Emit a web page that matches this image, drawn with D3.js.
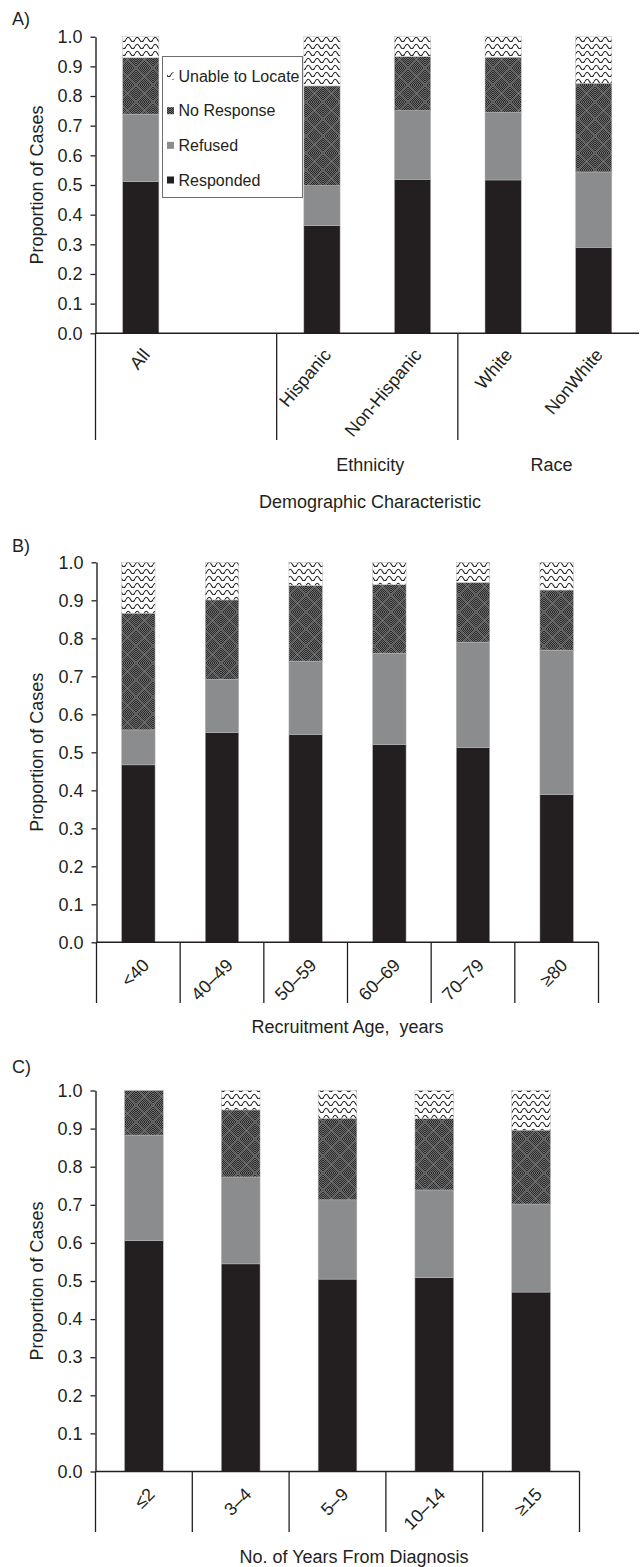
<!DOCTYPE html>
<html>
<head>
<meta charset="utf-8">
<script src="https://cdn.jsdelivr.net/npm/d3@7"></script>
<style>
  body { margin: 0; background: #fff; }
  svg { display: block; }
  text { font-family: "Liberation Sans", Arial, Helvetica, sans-serif; fill: #231f20; white-space: pre; }
</style>
</head>
<body>
<div id="chart"></div>
<script>
// series keys, bottom to top of each stack
var seriesKeys = ['Responded', 'Refused', 'No Response', 'Unable to Locate'];

// A) demographic characteristic ('' is the empty slot after All)
var demoCategories = ['All', '', 'Hispanic', 'Non-Hispanic', 'White', 'NonWhite'];
var demoResponded  = [0.511, 0, 0.363, 0.519, 0.517, 0.290];
var demoRefused    = [0.228, 0, 0.135, 0.232, 0.228, 0.254];
var demoNoResponse = [0.190, 0, 0.336, 0.182, 0.186, 0.299];
var demoUnable     = [0.071, 0, 0.166, 0.067, 0.069, 0.157];
var demoGroups = [
    {label: 'Ethnicity', from: 'Hispanic', to: 'Non-Hispanic'},
    {label: 'Race', from: 'White', to: 'NonWhite'}
];

// B) recruitment age
var ageCategories = ['<40', '40\u201349', '50\u201359', '60\u201369', '70\u201379', '\u226580'];
var ageResponded  = [0.467, 0.552, 0.547, 0.520, 0.512, 0.389];
var ageRefused    = [0.092, 0.140, 0.193, 0.241, 0.278, 0.380];
var ageNoResponse = [0.307, 0.209, 0.199, 0.180, 0.157, 0.158];
var ageUnable     = [0.134, 0.099, 0.061, 0.059, 0.053, 0.073];

// C) years from diagnosis
var yearsCategories = ['\u22642', '3\u20134', '5\u20139', '10\u201314', '\u226515'];
var yearsResponded  = [0.606, 0.545, 0.505, 0.509, 0.471];
var yearsRefused    = [0.277, 0.228, 0.208, 0.230, 0.231];
var yearsNoResponse = [0.117, 0.176, 0.214, 0.187, 0.194];
var yearsUnable     = [0.000, 0.051, 0.073, 0.074, 0.104];

var yTicks = d3.range(0, 11).map(function(i) { return i / 10; });

var WIDTH = 643, HEIGHT = 1567;
var INK = '#231f20';

var svg = d3.select('#chart').append('svg')
    .attr('width', WIDTH)
    .attr('height', HEIGHT);

// fill patterns
var defs = svg.append('defs');

var checker = defs.append('pattern')
    .attr('id', 'checker')
    .attr('patternUnits', 'userSpaceOnUse')
    .attr('width', 2).attr('height', 2);
checker.append('rect').attr('width', 2).attr('height', 2).attr('fill', '#6c6c6c');
checker.append('rect').attr('width', 1).attr('height', 1).attr('fill', '#2b2b2b');
checker.append('rect').attr('x', 1).attr('y', 1).attr('width', 1).attr('height', 1).attr('fill', '#2b2b2b');

var noResp = defs.append('pattern')
    .attr('id', 'noresp')
    .attr('patternUnits', 'userSpaceOnUse')
    .attr('width', 17).attr('height', 17);
noResp.append('rect').attr('width', 17).attr('height', 17).attr('fill', 'url(#checker)');
noResp.append('path')
    .attr('d', 'M0,0L17,17M17,0L0,17')
    .attr('stroke', '#a8a8a8')
    .attr('stroke-width', 0.8)
    .attr('stroke-opacity', 0.45);

var waves = defs.append('pattern')
    .attr('id', 'waves')
    .attr('patternUnits', 'userSpaceOnUse')
    .attr('width', 9).attr('height', 7);
waves.append('rect').attr('width', 9).attr('height', 7).attr('fill', '#fff');
waves.append('path')
    .attr('d', 'M0,4.6 Q2.25,0 4.5,4.6 T9,4.6')
    .attr('fill', 'none')
    .attr('stroke', INK)
    .attr('stroke-width', 1.1);

var fills = {
    'Responded': INK,
    'Refused': '#8b8c8e',
    'No Response': 'url(#noresp)',
    'Unable to Locate': 'url(#waves)'
};

function makeRows(categories, responded, refused, noResponse, unable) {
    return categories.map(function(c, i) {
        return {
            category: c,
            'Responded': responded[i],
            'Refused': refused[i],
            'No Response': noResponse[i],
            'Unable to Locate': unable[i]
        };
    });
}

/**
 * Draws one stacked-bar panel.
 */
function drawPanel(cfg) {
    var rows = makeRows(cfg.categories, cfg.responded, cfg.refused, cfg.noResponse, cfg.unable);

    var x = d3.scaleBand()
        .domain(cfg.categories)
        .range([cfg.left, cfg.right])
        .paddingInner(0.6)
        .paddingOuter(0.3);
    var y = d3.scaleLinear().domain([0, 1]).range([cfg.bottom, cfg.top]);
    var step = x.step();

    var g = svg.append('g');

    // panel letter
    g.append('text')
        .attr('x', 12)
        .attr('y', cfg.letterY)
        .attr('font-size', 18)
        .text(cfg.letter);

    // stacked bars
    var stacked = d3.stack().keys(seriesKeys)(rows);
    g.selectAll('g.series')
        .data(stacked)
        .enter().append('g')
        .attr('class', 'series')
        .attr('fill', function(s) { return fills[s.key]; })
        .selectAll('rect')
        .data(function(s) { return s.filter(function(d) { return d[1] - d[0] > 0; }); })
        .enter().append('rect')
        .attr('x', function(d) { return x(d.data.category); })
        .attr('width', x.bandwidth())
        .attr('y', function(d) { return y(d[1]); })
        .attr('height', function(d) { return y(d[0]) - y(d[1]); })
        .attr('stroke', '#b8b8b8')
        .attr('stroke-width', 0.5);

    // y axis
    var yAxis = g.append('g')
        .attr('transform', 'translate(' + cfg.left + ',0)')
        .call(d3.axisLeft(y).tickValues(yTicks).tickFormat(d3.format('.1f')).tickSize(5).tickPadding(8).tickSizeOuter(0));
    yAxis.select('.domain').attr('stroke', INK).attr('stroke-width', 1.4);
    yAxis.selectAll('.tick line').attr('stroke', INK).attr('stroke-width', 1.3);
    yAxis.selectAll('.tick text')
        .attr('font-size', 18)
        .attr('font-family', '"Liberation Sans", Arial, sans-serif')
        .attr('fill', INK);

    // y title
    g.append('text')
        .attr('transform', 'translate(43,' + ((cfg.top + cfg.bottom) / 2) + ') rotate(-90)')
        .attr('text-anchor', 'middle')
        .attr('font-size', 18)
        .text('Proportion of Cases');

    // x axis base line
    g.append('line')
        .attr('x1', cfg.left).attr('x2', cfg.right)
        .attr('y1', cfg.bottom).attr('y2', cfg.bottom)
        .attr('stroke', INK).attr('stroke-width', 1.4);

    // category dividers running down under the axis
    g.selectAll('line.divider')
        .data(cfg.dividers)
        .enter().append('line')
        .attr('class', 'divider')
        .attr('x1', function(i) { return cfg.left + i * step; })
        .attr('x2', function(i) { return cfg.left + i * step; })
        .attr('y1', cfg.bottom)
        .attr('y2', cfg.dividerBottom)
        .attr('stroke', INK)
        .attr('stroke-width', 1.3);

    // rotated category labels
    g.selectAll('text.cat')
        .data(cfg.categories.filter(function(c) { return c !== ''; }))
        .enter().append('text')
        .attr('class', 'cat')
        .attr('text-anchor', 'end')
        .attr('font-size', cfg.labelSize)
        .attr('transform', function(c) {
            var ax = x(c) + x.bandwidth() / 2 + cfg.labelDx;
            return 'translate(' + ax + ',' + (cfg.bottom + cfg.labelDy) + ') rotate(' + cfg.angle + ')';
        })
        .text(function(c) { return c; });

    // group labels (panel A)
    (cfg.groups || []).forEach(function(grp) {
        var cx = (x(grp.from) - x.paddingInner() * step / 2 + x(grp.to) + x.bandwidth() + x.paddingInner() * step / 2) / 2;
        g.append('text')
            .attr('x', cx + 3)
            .attr('y', cfg.groupY)
            .attr('text-anchor', 'middle')
            .attr('font-size', 18)
            .text(grp.label);
    });

    // axis title
    g.append('text')
        .attr('x', cfg.titleX)
        .attr('y', cfg.titleY)
        .attr('text-anchor', 'middle')
        .attr('font-size', 18)
        .text(cfg.title);

    return g;
}

// Panel A
drawPanel({
    letter: 'A)', letterY: 25,
    categories: demoCategories,
    responded: demoResponded, refused: demoRefused, noResponse: demoNoResponse, unable: demoUnable,
    left: 95.5, right: 639, top: 36.7, bottom: 333.3,
    dividers: [0, 2, 4], dividerBottom: 440,
    angle: -50, labelDx: 10, labelDy: 22, labelSize: 18,
    groups: demoGroups, groupY: 471,
    title: 'Demographic Characteristic', titleX: 370, titleY: 508
});

// legend for panel A
var legend = svg.append('g');
legend.append('rect')
    .attr('x', 162.5).attr('y', 56.5)
    .attr('width', 140).attr('height', 141)
    .attr('fill', '#fff')
    .attr('stroke', '#6d6e70')
    .attr('stroke-width', 1);
var legendItems = seriesKeys.slice().reverse();
var legendY = d3.scalePoint().domain(legendItems).range([76, 180]);
legendItems.forEach(function(k) {
    legend.append('rect')
        .attr('x', 167).attr('y', legendY(k) - 3.5)
        .attr('width', 7).attr('height', 7)
        .attr('fill', fills[k]);
    legend.append('text')
        .attr('x', 178.5).attr('y', legendY(k) + 5.8)
        .attr('font-size', 16)
        .text(k);
});

// Panel B
drawPanel({
    letter: 'B)', letterY: 552,
    categories: ageCategories,
    responded: ageResponded, refused: ageRefused, noResponse: ageNoResponse, unable: ageUnable,
    left: 96.5, right: 598.5, top: 562.3, bottom: 942.3,
    dividers: d3.range(0, 7), dividerBottom: 1003,
    angle: -45, labelDx: 12, labelDy: 24, labelSize: 18,
    title: 'Recruitment Age,  years', titleX: 347.5, titleY: 1033
});

// Panel C
drawPanel({
    letter: 'C)', letterY: 1073,
    categories: yearsCategories,
    responded: yearsResponded, refused: yearsRefused, noResponse: yearsNoResponse, unable: yearsUnable,
    left: 95.5, right: 579.5, top: 1090.5, bottom: 1471.5,
    dividers: d3.range(0, 6), dividerBottom: 1532,
    angle: -45, labelDx: 12, labelDy: 24, labelSize: 18,
    title: 'No. of Years From Diagnosis', titleX: 354, titleY: 1563
});
</script>
</body>
</html>
